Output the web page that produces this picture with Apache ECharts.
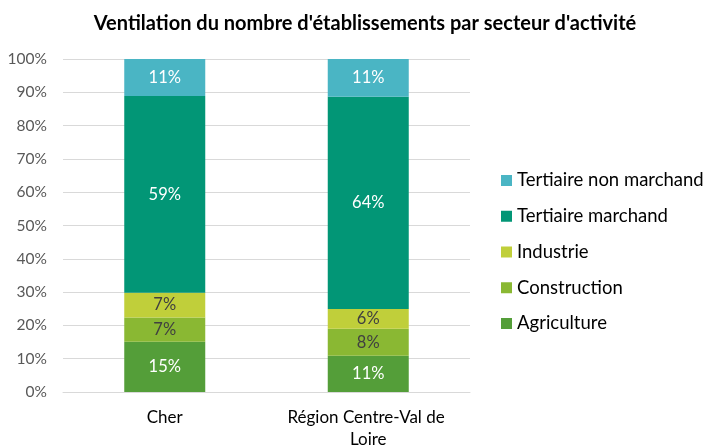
<!DOCTYPE html>
<html>
<head>
<meta charset="utf-8">
<title>Ventilation par secteur d'activité</title>
<script src="https://cdn.jsdelivr.net/npm/echarts@6/dist/echarts.min.js"></script>
<style>
    html, body { margin: 0; padding: 0; background: #fff; }
    #main { width: 704px; height: 448px; }
</style>
</head>
<body>
<div id="main"></div>
<script type="text/javascript">
    // zones comparées
    var zones = ['Cher', 'Région Centre-Val de Loire'];
    // parts (%), par secteur
    var agriculture = [15.1, 10.9];
    var construction = [7.3, 8.1];
    var industrie = [7.4, 5.9];
    var tertiaireMarchand = [59.1, 63.8];
    var tertiaireNonMarchand = [11.1, 11.3];
    var yTicks = [0, 10, 20, 30, 40, 50, 60, 70, 80, 90, 100];

    var font = 'Lato';
    var myChart = echarts.init(document.getElementById('main'));

    function serie(name, data, color, labelColor) {
        return {
            name: name,
            type: 'bar',
            stack: 'total',
            barWidth: 81,
            data: data,
            itemStyle: { color: color },
            label: {
                show: true,
                position: 'inside',
                color: labelColor,
                fontFamily: font,
                fontSize: 16.5,
                formatter: function (p) { return Math.round(p.value) + '%'; }
            }
        };
    }

    var option = {
        animation: false,
        title: {
            text: "Ventilation du nombre d'établissements par secteur d'activité",
            left: 360,
            textAlign: 'center',
            top: 9,
            textStyle: { fontFamily: font, fontSize: 20, fontWeight: 'bold', color: '#000' }
        },
        legend: {
            orient: 'vertical',
            left: 501,
            top: 171,
            padding: 0,
            itemWidth: 11,
            itemHeight: 11,
            itemGap: 16.75,
            icon: 'rect',
            data: ['Tertiaire non marchand', 'Tertiaire marchand', 'Industrie', 'Construction', 'Agriculture'],
            textStyle: { fontFamily: font, fontSize: 18.5, lineHeight: 17, color: '#000' }
        },
        grid: { left: 63, right: 234, top: 59, bottom: 56, outerBoundsMode: 'none', containLabel: false },
        xAxis: {
            type: 'category',
            data: zones,
            axisLine: { lineStyle: { color: '#d9d9d9' } },
            axisTick: { show: false },
            axisLabel: {
                interval: 0,
                fontFamily: font, fontSize: 17, color: '#000', margin: 15,
                width: 190, overflow: 'break', lineHeight: 22
            }
        },
        yAxis: {
            type: 'value',
            min: yTicks[0],
            max: yTicks[yTicks.length - 1],
            interval: 10,
            axisLabel: { fontFamily: font, fontSize: 15.5, color: '#595959', formatter: '{value}%', margin: 16 },
            splitLine: { lineStyle: { color: '#d9d9d9', width: 1 } }
        },
        series: [
            serie('Agriculture', agriculture, '#549E39', '#fff'),
            serie('Construction', construction, '#8AB833', '#404040'),
            serie('Industrie', industrie, '#C0CF3A', '#404040'),
            serie('Tertiaire marchand', tertiaireMarchand, '#029676', '#fff'),
            serie('Tertiaire non marchand', tertiaireNonMarchand, '#4AB5C4', '#fff')
        ]
    };

    myChart.setOption(option);
</script>
</body>
</html>
